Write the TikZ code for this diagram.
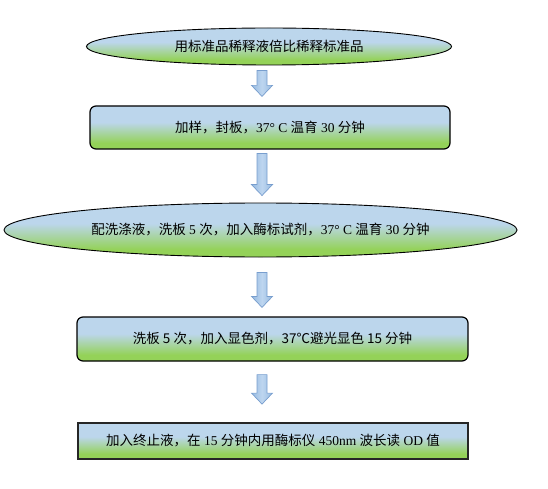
\documentclass[tikz,border=0pt]{standalone}
\usepackage{fontspec}
\setmainfont{Liberation Serif}
\newfontfamily\cjk{Noto Sans CJK SC}
\usetikzlibrary{shapes.geometric,calc}
\definecolor{btop}{RGB}{188,214,236}
\definecolor{gbot}{RGB}{148,210,88}
\definecolor{arrdark}{RGB}{150,186,224}
\definecolor{arrlight}{RGB}{190,214,240}
\definecolor{arrline}{RGB}{120,158,206}
\pgfdeclareverticalshading{flowshade}{100bp}{color(0bp)=(gbot); color(25bp)=(gbot); color(32bp)=(gbot); color(56bp)=(btop); color(75bp)=(btop); color(100bp)=(btop)}
\tikzset{
  stage/.style={shading=flowshade, draw=black, inner sep=0pt, align=center,
    font=\fontsize{13.5}{16}\selectfont},
  ovalstage/.style={stage, ellipse, line width=0.9pt},
  roundstage/.style={stage, rectangle, rounded corners=6pt, line width=1.2pt},
  squarestage/.style={stage, rectangle, line width=1.8pt, draw=black!85},
  blockarr/.style={left color=arrdark, right color=arrdark, middle color=arrlight,
    draw=arrline, line width=0.7pt, line join=miter}
}
\newcommand\blockarrow[2]{%
  \path[blockarr] let \p1=#1, \p2=#2 in
    (\x1-5pt,\y1) -- (\x1+5pt,\y1) -- (\x1+5pt,\y2+11pt) -- (\x1+10.5pt,\y2+11pt)
    -- (\x1,\y2) -- (\x1-10.5pt,\y2+11pt) -- (\x1-5pt,\y2+11pt) -- cycle;}
\begin{document}
\begin{tikzpicture}[x=1pt,y=-1pt]
\useasboundingbox (0,0) rectangle (548,489);
\node[ovalstage, minimum width=365pt, minimum height=37pt] (s1) at (269,46.5)
  {\cjk 用标准品稀释液倍比稀释标准品};
\node[roundstage, minimum width=360pt, minimum height=43pt] (s2) at (270,127.5)
  {{\cjk 加样，封板，}37° C {\cjk 温育} 30 {\cjk 分钟}};
\node[ovalstage, minimum width=513pt, minimum height=54pt] (s3) at (260.5,230)
  {{\cjk 配洗涤液，洗板} 5 {\cjk 次，加入酶标试剂，}37° C {\cjk 温育} 30 {\cjk 分钟}};
\node[roundstage, minimum width=391pt, minimum height=44pt] (s4) at (272.5,339)
  {\cjk 洗板 5 次，加入显色剂，37℃避光显色 15 分钟};
\node[squarestage, minimum width=390pt, minimum height=36pt] (s5) at (273,441)
  {{\cjk 加入终止液，在} 15 {\cjk 分钟内用酶标仪} 450nm {\cjk 波长读} OD {\cjk 值}};
\coordinate (ax) at (262,0);
\blockarrow{($(ax |- s1.south)+(0,5)$)}{($(ax |- s2.north)+(0,-9)$)}
\blockarrow{($(ax |- s2.south)+(0,4)$)}{($(ax |- s3.north)+(0,-7)$)}
\blockarrow{($(ax |- s3.south)+(0,15)$)}{($(ax |- s4.north)+(0,-9)$)}
\blockarrow{($(ax |- s4.south)+(0,13)$)}{($(ax |- s5.north)+(0,-18)$)}
\end{tikzpicture}
\end{document}
